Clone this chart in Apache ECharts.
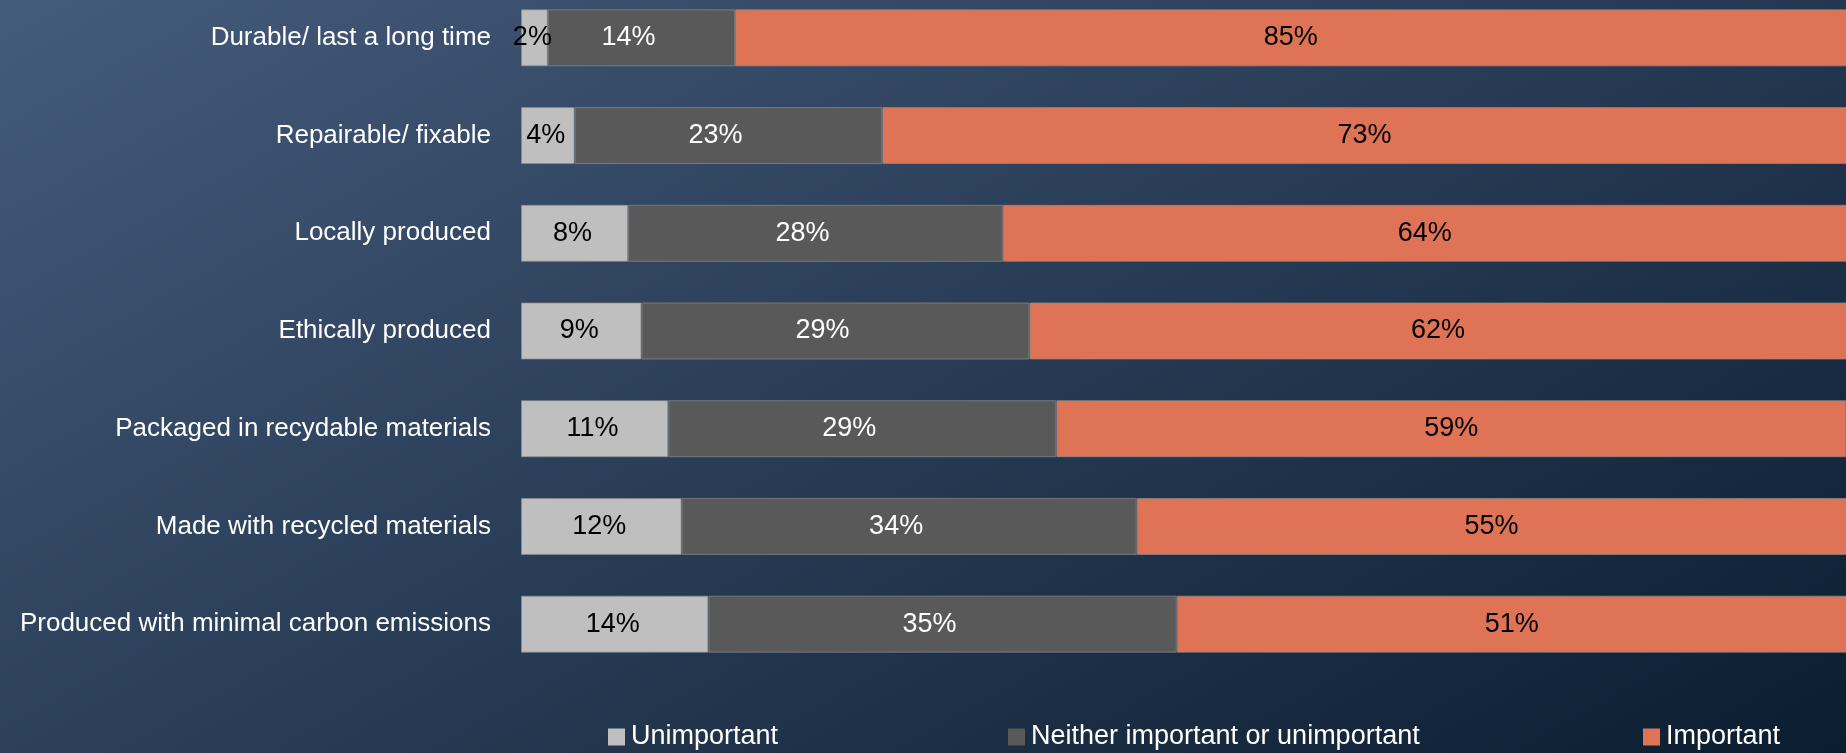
<!DOCTYPE html>
<html>
<head>
<meta charset="utf-8">
<title>Product attributes importance</title>
<script src="https://cdn.jsdelivr.net/npm/echarts@6/dist/echarts.min.js"></script>
<style>
  html, body { margin: 0; padding: 0; }
  #chart { width: 1846px; height: 753px; }
</style>
</head>
<body>
<div id="chart"></div>
<script>
const categories = [
  'Durable/ last a long time',
  'Repairable/ fixable',
  'Locally produced',
  'Ethically produced',
  'Packaged in recydable materials',
  'Made with recycled materials',
  'Produced with minimal carbon emissions'
]
const unimportant = [2, 4, 8, 9, 11, 12, 14]
const neither = [14, 23, 28, 29, 29, 34, 35]
const important = [85, 73, 64, 62, 59, 55, 51]
const seriesNames = ['Unimportant', 'Neither important or unimportant', 'Important']

// no narrow face installed, so the regular one is set a bit smaller to keep the widths
const FONT = "'Liberation Sans Narrow', 'Arial Narrow', 'Liberation Sans', sans-serif"
const colors = ['#bfbfbf', '#595959', '#de7455']

const chart = echarts.init(document.getElementById('chart'))

const makeSeries = (name, data, color, labelColor, dx) => ({
  name: name,
  type: 'bar',
  stack: 'total',
  barWidth: 57,
  clip: true,
  data: data,
  itemStyle: {
    color: color,
    borderColor: 'rgba(140,140,140,0.7)',
    borderWidth: 1
  },
  label: {
    show: true,
    position: 'inside',
    offset: [dx, 0],
    formatter: '{c}%',
    color: labelColor,
    fontFamily: FONT,
    fontSize: 27
  }
})

// one legend per item so each sits where the original puts it
const makeLegend = (name, left) => ({
  data: [name],
  left: left,
  top: 717,
  icon: 'rect',
  itemWidth: 17,
  itemHeight: 17,
  itemGap: 0,
  selectedMode: false,
  itemStyle: { borderWidth: 0 },
  textStyle: {
    color: '#ffffff',
    fontFamily: FONT,
    fontSize: 27,
    lineHeight: 30,
    padding: [0, 0, 0, 1]
  }
})

const option = {
  backgroundColor: new echarts.graphic.LinearGradient(0, 0, 753, 1359, [
    { offset: 0, color: '#455b7b' },
    { offset: 1, color: '#0b1d30' }
  ], true),
  animation: false,
  color: colors,
  legend: [
    makeLegend(seriesNames[0], 603),
    makeLegend(seriesNames[1], 1003),
    makeLegend(seriesNames[2], 1638)
  ],
  grid: {
    left: 521,
    right: 0,
    top: -11,
    bottom: 80,
    containLabel: false,
    outerBoundsMode: 'none'
  },
  xAxis: {
    type: 'value',
    min: 0,
    max: 99,
    show: false
  },
  yAxis: {
    type: 'category',
    inverse: true,
    data: categories,
    axisLine: { show: false },
    axisTick: { show: false },
    axisLabel: {
      color: '#ffffff',
      fontFamily: FONT,
      fontSize: 26,
      margin: 30
    }
  },
  series: [
    makeSeries(seriesNames[0], unimportant, colors[0], '#000000', -2),
    makeSeries(seriesNames[1], neither, colors[1], '#ffffff', -13),
    makeSeries(seriesNames[2], important, colors[2], '#000000', 0)
  ]
}

chart.setOption(option)
</script>
</body>
</html>
